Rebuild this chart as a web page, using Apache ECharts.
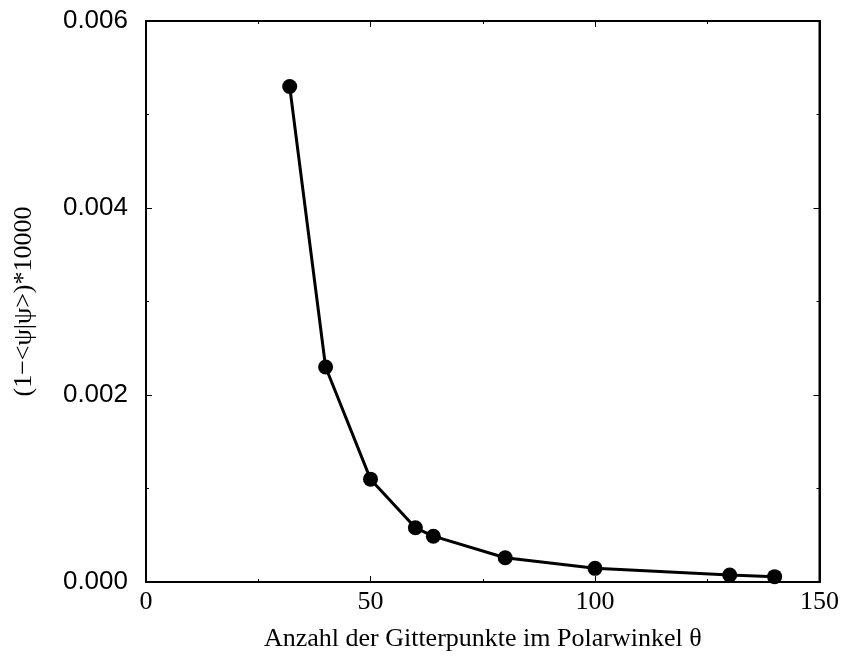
<!DOCTYPE html>
<html>
<head>
<meta charset="utf-8">
<script src="https://cdn.jsdelivr.net/npm/echarts@6/dist/echarts.min.js"></script>
<style>
  html, body { margin: 0; padding: 0; background: #fff; }
  #container { width: 842px; height: 657px; }
</style>
</head>
<body>
<div id="container"></div>
<script>
// Gitterpunkte im Polarwinkel vs. Fehler
var gitterpunkte = [32, 40, 50, 60, 64, 80, 100, 130, 140];
var fehler = [0.0053, 0.0023, 0.0011, 0.00058, 0.00049, 0.00026, 0.000146, 0.000075, 0.000057];
var xName = 'Anzahl der Gitterpunkte im Polarwinkel θ';
var yName = '(1−<ψ|ψ>)*10000';

var punkte = [];
for (var i = 0; i < gitterpunkte.length; i++) {
  punkte.push([gitterpunkte[i], fehler[i]]);
}

var dom = document.getElementById('container');
var myChart = echarts.init(dom);

var serif = 'Liberation Serif';
var sans = 'Liberation Sans';

// ticks pointing into the plot, like the original
var tick = { inside: true, length: 6, lineStyle: { color: '#000', width: 1 } };
var minor = { show: true, splitNumber: 2, length: 3, lineStyle: { color: '#000', width: 1 } };
var linie = { onZero: false, lineStyle: { color: '#000', width: 2 } };

var option = {
  animation: false,
  backgroundColor: '#fff',
  grid: {
    left: 146, right: 21, top: 21, bottom: 74,
    show: true, borderColor: '#000', borderWidth: 2,
    containLabel: false
  },
  xAxis: [
    {
      type: 'value', min: 0, max: 150, interval: 50,
      name: xName, nameLocation: 'middle', nameGap: 44,
      nameTextStyle: { fontFamily: serif, fontSize: 26, color: '#000' },
      axisLine: linie, axisTick: tick, minorTick: minor,
      axisLabel: { fontFamily: serif, fontSize: 26, color: '#000', margin: 7 },
      splitLine: { show: false }
    },
    {
      type: 'value', min: 0, max: 150, interval: 50, position: 'top',
      axisLine: linie, axisTick: tick, minorTick: minor,
      axisLabel: { show: false },
      splitLine: { show: false }
    }
  ],
  yAxis: [
    {
      type: 'value', min: 0, max: 0.006, interval: 0.002,
      name: yName, nameLocation: 'middle', nameGap: 109, nameRotate: 90,
      nameTextStyle: { fontFamily: serif, fontSize: 26, color: '#000' },
      axisLine: linie, axisTick: tick, minorTick: minor,
      axisLabel: {
        fontFamily: sans, fontSize: 26, color: '#000', margin: 18,
        formatter: function (v) { return v.toFixed(3); }
      },
      splitLine: { show: false }
    },
    {
      type: 'value', min: 0, max: 0.006, interval: 0.002, position: 'right',
      axisLine: linie, axisTick: tick, minorTick: minor,
      axisLabel: { show: false },
      splitLine: { show: false }
    }
  ],
  series: [
    {
      type: 'line',
      data: punkte,
      symbol: 'circle',
      symbolSize: 15,
      lineStyle: { color: '#000', width: 3 },
      itemStyle: { color: '#000' }
    }
  ]
};

myChart.setOption(option, true);
</script>
</body>
</html>
